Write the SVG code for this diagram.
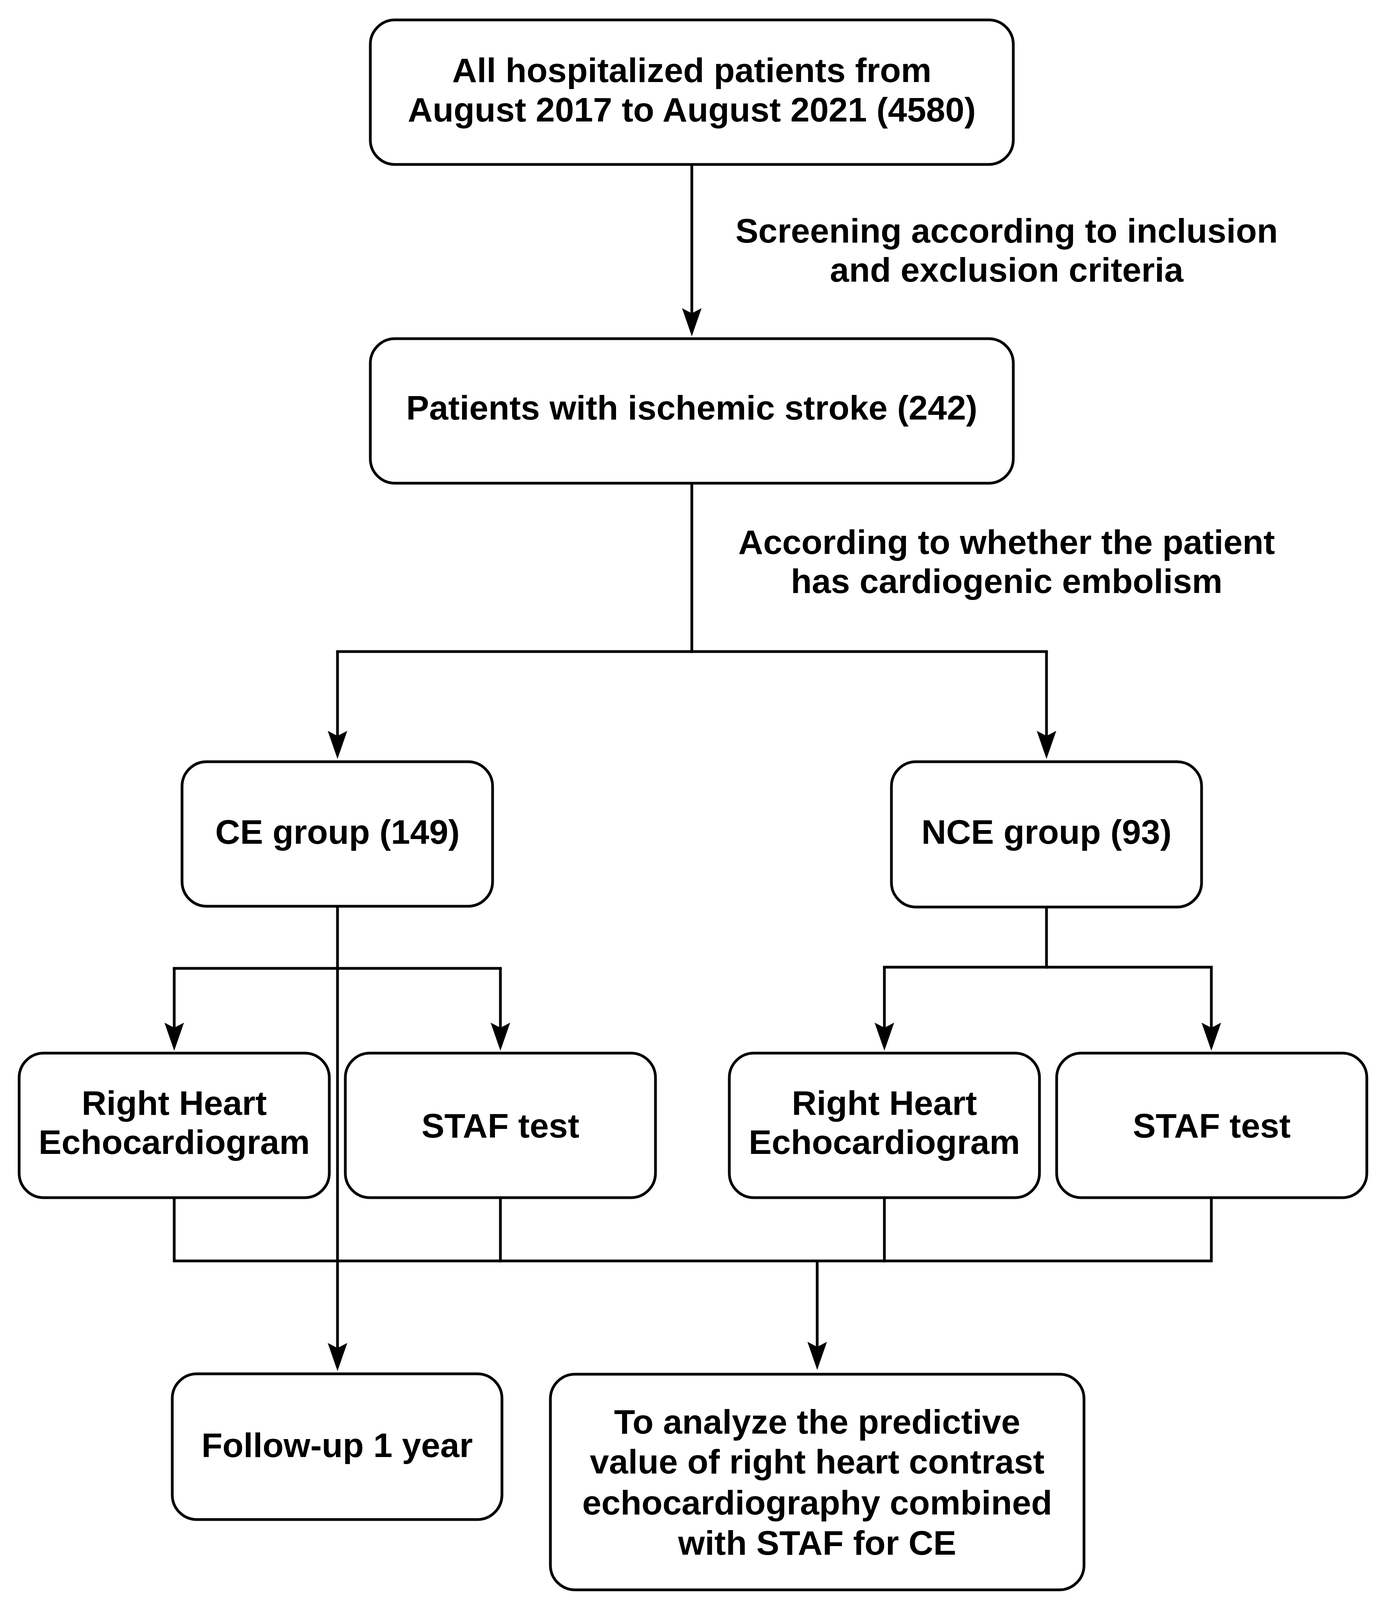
<svg xmlns="http://www.w3.org/2000/svg" width="3543" height="4124" viewBox="0 0 3543 4124">
<style>
.box{fill:#fff;stroke:#000;stroke-width:7}
.ln{fill:none;stroke:#000;stroke-width:7;stroke-linejoin:miter;stroke-linecap:square}
.arr{fill:none;stroke:#000;stroke-width:7;stroke-linecap:butt}
text{font-family:"Liberation Sans",Arial,sans-serif;font-weight:bold;font-size:88px;fill:#000;text-anchor:middle}
</style>
<defs>
<marker id="ah" viewBox="0 -25 72 50" refX="13" refY="0" markerWidth="72" markerHeight="50" markerUnits="userSpaceOnUse" orient="auto">
<path d="M0,-25 L72,0 L0,25 L13,0 Z" fill="#000"/>
</marker>
</defs>
<rect width="3543" height="4124" fill="#fff"/>
<g id="connectors">
<path class="arr" d="M1771,421 V802" marker-end="url(#ah)"/>
<path class="ln" d="M1771,1237 V1668"/>
<path class="ln" d="M864,1668 H2679"/>
<path class="arr" d="M864,1668 V1884" marker-end="url(#ah)"/>
<path class="arr" d="M2679,1668 V1884" marker-end="url(#ah)"/>
<path class="arr" d="M864,2320 V3451" marker-end="url(#ah)"/>
<path class="ln" d="M446,2479 H1281"/>
<path class="arr" d="M446,2479 V2631" marker-end="url(#ah)"/>
<path class="arr" d="M1281,2479 V2631" marker-end="url(#ah)"/>
<path class="ln" d="M2679,2322 V2476"/>
<path class="ln" d="M2264,2476 H3101"/>
<path class="arr" d="M2264,2476 V2631" marker-end="url(#ah)"/>
<path class="arr" d="M3101,2476 V2631" marker-end="url(#ah)"/>
<path class="ln" d="M446,3066 V3228 H3101 V3066"/>
<path class="ln" d="M1281,3066 V3228"/>
<path class="ln" d="M2264,3066 V3228"/>
<path class="arr" d="M2092,3228 V3448" marker-end="url(#ah)"/>
<text x="2577" y="621">Screening according to inclusion</text>
<text x="2577" y="721">and exclusion criteria</text>
<text x="2577" y="1418">According to whether the patient</text>
<text x="2577" y="1518">has cardiogenic embolism</text>
</g>
<g id="n-all">
<rect class="box" x="948" y="51" width="1646" height="370" rx="63" ry="63"/>
<text x="1771" y="210">All hospitalized patients from</text>
<text x="1771" y="311">August 2017 to August 2021 (4580)</text>
</g>
<g id="n-stroke">
<rect class="box" x="948" y="867" width="1646" height="370" rx="63" ry="63"/>
<text x="1771" y="1074">Patients with ischemic stroke (242)</text>
</g>
<g id="n-ce">
<rect class="box" x="466" y="1950" width="795" height="370" rx="63" ry="63"/>
<text x="864" y="2160">CE group (149)</text>
</g>
<g id="n-nce">
<rect class="box" x="2282" y="1950" width="794" height="372" rx="63" ry="63"/>
<text x="2679" y="2160">NCE group (93)</text>
</g>
<g id="n-rhe1">
<rect class="box" x="49" y="2696" width="794" height="370" rx="63" ry="63"/>
<text x="446" y="2854">Right Heart</text>
<text x="446" y="2954">Echocardiogram</text>
</g>
<g id="n-staf1">
<rect class="box" x="884" y="2696" width="794" height="370" rx="63" ry="63"/>
<text x="1281" y="2912">STAF test</text>
</g>
<g id="n-rhe2">
<rect class="box" x="1867" y="2696" width="794" height="370" rx="63" ry="63"/>
<text x="2264" y="2854">Right Heart</text>
<text x="2264" y="2954">Echocardiogram</text>
</g>
<g id="n-staf2">
<rect class="box" x="2705" y="2696" width="794" height="370" rx="63" ry="63"/>
<text x="3102" y="2912">STAF test</text>
</g>
<g id="n-follow">
<rect class="box" x="441" y="3517" width="844" height="373" rx="63" ry="63"/>
<text x="863" y="3730">Follow-up 1 year</text>
</g>
<g id="n-analyze">
<rect class="box" x="1409" y="3518" width="1366" height="552" rx="63" ry="63"/>
<text x="2092" y="3670">To analyze the predictive</text>
<text x="2092" y="3772">value of right heart contrast</text>
<text x="2092" y="3877">echocardiography combined</text>
<text x="2092" y="3980">with STAF for CE</text>
</g>
</svg>
